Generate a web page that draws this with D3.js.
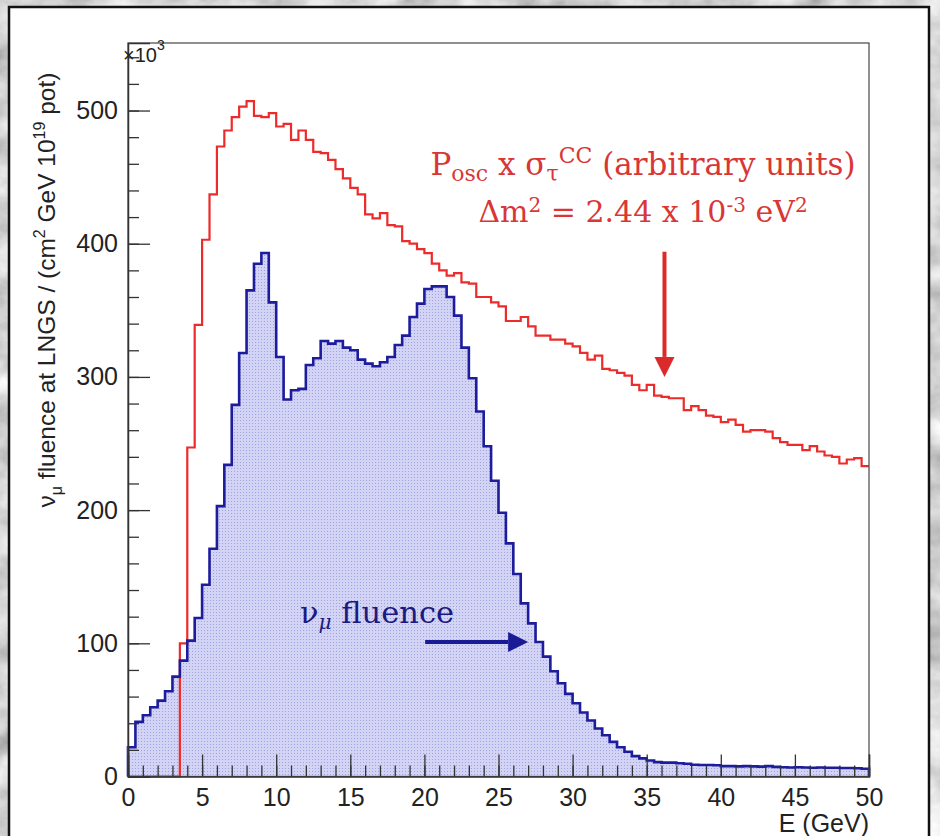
<html>
<script src='https://d3js.org/d3.v7.min.js'></script>
<head>
<style>
  body { margin: 0; background: #999; }
  svg { display: block; }
</style>
</head>
<body>
<svg width=940 height=836></svg>
<script>
// bin edges: 100 bins of 0.5 GeV from 0 to 50
var binWidth = 0.5;

// nu_mu fluence at LNGS (x10^3)
var fluence = [22, 41, 46, 52, 57, 64, 75, 87, 102, 119,
  144, 171, 203, 234, 279, 318, 365, 385, 393, 356,
  315, 283, 290, 291, 309, 314, 327, 325, 327, 322,
  320, 313, 310, 308, 311, 315, 324, 331, 345, 355,
  366, 368, 368, 360, 346, 322, 299, 274, 248, 222,
  198, 175, 152, 130, 115, 101, 90, 79, 70, 62,
  55, 48, 42, 36, 31, 26, 22, 18.6, 15.3, 13.6,
  12, 10.8, 10.4, 10.4, 10, 9.6, 8.8, 8.6, 8.6, 8.4,
  7.8, 7.8, 7.6, 7.8, 7.6, 7.4, 7.8, 7.2, 7.0, 6.8,
  7.0, 6.8, 6.6, 6.8, 6.6, 6.6, 6.4, 6.4, 6.2, 5.8];

// Posc x sigma_tau CC (arbitrary units)
var oscXsec = [0, 0, 0, 0, 0, 0, 0, 100, 247, 339,
  403, 437, 473, 485, 495, 503, 507, 496, 495, 498,
  488, 490, 478, 485, 478, 469, 468, 463, 456, 449,
  442, 437, 422, 419, 423, 414, 413, 402, 400, 396,
  393, 385, 380, 376, 378, 371, 370, 360, 360, 356,
  353, 342, 342, 345, 338, 331, 331, 328, 328, 325,
  323, 318, 313, 316, 306, 305, 303, 301, 294, 290,
  294, 286, 285, 284, 284, 275, 278, 275, 271, 270,
  266, 268, 264, 259, 260, 260, 259, 254, 251, 249,
  249, 245, 248, 244, 241, 240, 235, 238, 239, 233];

var xTicks = [0, 5, 10, 15, 20, 25, 30, 35, 40, 45, 50];
var yTicks = [0, 100, 200, 300, 400, 500];

var svg = d3.select("svg");

// marble-ish backdrop
var defs = svg.append("defs");
var filt = defs.append("filter").attr("id", "marble")
  .attr("x", 0).attr("y", 0).attr("width", "100%").attr("height", "100%");
filt.append("feTurbulence").attr("type", "fractalNoise")
  .attr("baseFrequency", "0.02 0.025").attr("numOctaves", 5).attr("seed", 11);
filt.append("feColorMatrix").attr("type", "matrix")
  .attr("values", "0.5 0.5 0.5 0 -0.1  0.5 0.5 0.5 0 -0.1  0.5 0.5 0.5 0 -0.1  0 0 0 0 1");

var pat = defs.append("pattern").attr("id", "dots")
  .attr("width", 3).attr("height", 3).attr("patternUnits", "userSpaceOnUse");
pat.append("rect").attr("width", 3).attr("height", 3).attr("fill", "#d2d3f5");
pat.append("rect").attr("width", 1).attr("height", 1).attr("fill", "#9fa2df");

svg.append("rect").attr("width", 940).attr("height", 836).attr("filter", "url(#marble)");

// white panel
svg.append("rect")
  .attr("x", 9).attr("y", 7).attr("width", 920).attr("height", 860)
  .attr("fill", "white").attr("stroke", "#111").attr("stroke-width", 2.5);

var plotL = 128, plotR = 869, plotT = 43, plotB = 776.5;

var x = d3.scaleLinear().domain([0, 50]).range([plotL, plotR]);
var y = d3.scaleLinear().domain([0, 550.7]).range([plotB, plotT]);

function steps(vals, closeEnd) {
  var pts = [[0, 0]];
  vals.forEach(function(v, i) { pts.push([i * binWidth, v]); });
  pts.push([vals.length * binWidth, vals[vals.length - 1]]);
  if (closeEnd) pts.push([vals.length * binWidth, 0]);
  return pts;
}

var stepLine = d3.line()
  .curve(d3.curveStepAfter)
  .x(function(d) { return x(d[0]); })
  .y(function(d) { return y(d[1]); });

var stepArea = d3.area()
  .curve(d3.curveStepAfter)
  .x(function(d) { return x(d[0]); })
  .y0(y(0))
  .y1(function(d) { return y(d[1]); });

var blueColor = "#1c1c9c", redColor = "#ee2b2b";

// blue filled histogram
svg.append("path").datum(steps(fluence, true))
  .attr("d", stepArea).attr("fill", "url(#dots)");

// red histogram
svg.append("path").datum(steps(oscXsec, false))
  .attr("d", stepLine).attr("fill", "none")
  .attr("stroke", redColor).attr("stroke-width", 2.2);

// blue outline
svg.append("path").datum(steps(fluence, true))
  .attr("d", stepLine).attr("fill", "none")
  .attr("stroke", blueColor).attr("stroke-width", 2.6);

// frame
svg.append("rect")
  .attr("x", plotL).attr("y", plotT).attr("width", plotR - plotL).attr("height", plotB - plotT)
  .attr("fill", "none").attr("stroke", "#555").attr("stroke-width", 1.3);

var tickFont = "'Liberation Sans', Arial, sans-serif";

// x axis: ticks drawn inward, labels below
svg.append("g").attr("transform", "translate(0," + plotB + ")")
  .call(d3.axisBottom(x).tickValues(xTicks).tickSize(-22).tickPadding(12).tickFormat(d3.format("d")));
svg.append("g").attr("transform", "translate(0," + plotB + ")")
  .call(d3.axisBottom(x).tickValues(d3.range(0, 51, 1)).tickSize(-11).tickFormat(""))
  .select(".domain").remove();

// y axis
svg.append("g").attr("transform", "translate(" + plotL + ",0)")
  .call(d3.axisLeft(y).tickValues(yTicks).tickSize(-22).tickPadding(10).tickFormat(d3.format("d")));
svg.append("g").attr("transform", "translate(" + plotL + ",0)")
  .call(d3.axisLeft(y).tickValues(d3.range(0, 541, 20)).tickSize(-11).tickFormat(""))
  .select(".domain").remove();

svg.selectAll(".tick line").attr("stroke", "#333").attr("stroke-width", 1.3);
svg.selectAll(".domain").attr("stroke", "#333").attr("stroke-width", 1.5);
svg.selectAll(".tick text").attr("font-family", tickFont).attr("font-size", 25).attr("fill", "#222");

// x10^3
var mult = svg.append("text").attr("x", 123).attr("y", 62)
  .attr("font-family", tickFont).attr("font-size", 20).attr("fill", "#222");
mult.append("tspan").text("\u00d710");
mult.append("tspan").attr("dy", -12).attr("font-size", 14).text("3");

// x title
svg.append("text").attr("x", plotR).attr("y", 832).attr("text-anchor", "end")
  .attr("font-family", tickFont).attr("font-size", 25).attr("fill", "#222")
  .text("E (GeV)");

// y title
var yt = svg.append("text")
  .attr("transform", "translate(55,290) rotate(-90)")
  .attr("text-anchor", "middle")
  .attr("font-family", tickFont).attr("font-size", 24.5).attr("fill", "#222");
yt.append("tspan").text("\u03bd");
yt.append("tspan").attr("dy", 7).attr("font-size", 16).text("\u03bc");
yt.append("tspan").attr("dy", -7).text(" fluence at LNGS / (cm");
yt.append("tspan").attr("dy", -10).attr("font-size", 16).text("2");
yt.append("tspan").attr("dy", 10).text(" GeV 10");
yt.append("tspan").attr("dy", -10).attr("font-size", 16).text("19");
yt.append("tspan").attr("dy", 10).text(" pot)");

// red annotation
var serif = "'DejaVu Serif', 'Liberation Serif', serif";
var redText = "#d93636";
var l1 = svg.append("text").attr("x", 643).attr("y", 175).attr("text-anchor", "middle")
  .attr("font-family", serif).attr("font-size", 31).attr("fill", redText);
l1.append("tspan").text("P");
l1.append("tspan").attr("dy", 6).attr("font-size", 22).text("osc");
l1.append("tspan").attr("dy", -6).text(" x \u03c3");
l1.append("tspan").attr("dy", 6).attr("font-size", 22).text("\u03c4");
l1.append("tspan").attr("dy", -18).attr("font-size", 22).text("CC");
l1.append("tspan").attr("dy", 12).text(" (arbitrary units)");

var l2 = svg.append("text").attr("x", 643).attr("y", 222).attr("text-anchor", "middle")
  .attr("font-family", serif).attr("font-size", 30).attr("fill", redText);
l2.append("tspan").text("\u0394m");
l2.append("tspan").attr("dy", -10).attr("font-size", 20).text("2");
l2.append("tspan").attr("dy", 10).text(" = 2.44 x 10");
l2.append("tspan").attr("dy", -10).attr("font-size", 20).text("-3");
l2.append("tspan").attr("dy", 10).text(" eV");
l2.append("tspan").attr("dy", -10).attr("font-size", 20).text("2");

// arrows
function arrow(x1, y1, x2, y2, color) {
  var ang = Math.atan2(y2 - y1, x2 - x1), len = 20, half = 10;
  var bx = x2 - len * Math.cos(ang), by = y2 - len * Math.sin(ang);
  svg.append("line").attr("x1", x1).attr("y1", y1).attr("x2", bx).attr("y2", by)
    .attr("stroke", color).attr("stroke-width", 4);
  svg.append("path")
    .attr("d", "M" + x2 + "," + y2 +
      "L" + (bx + half * Math.sin(ang)) + "," + (by - half * Math.cos(ang)) +
      "L" + (bx - half * Math.sin(ang)) + "," + (by + half * Math.cos(ang)) + "Z")
    .attr("fill", color);
}
arrow(x(36.2), y(394), x(36.2), y(300), "#dc2a2a");
arrow(x(20.05), y(101), x(27.0), y(101), "#1a1a96");

// blue annotation
var bl = svg.append("text").attr("x", 300).attr("y", 623)
  .attr("font-family", serif).attr("font-size", 30.5).attr("fill", "#1a1a80");
bl.append("tspan").text("\u03bd");
bl.append("tspan").attr("dy", 6).attr("font-size", 20).attr("font-style", "italic").text("\u03bc");
bl.append("tspan").attr("dy", -6).text(" fluence");
</script>
</body>
</html>
